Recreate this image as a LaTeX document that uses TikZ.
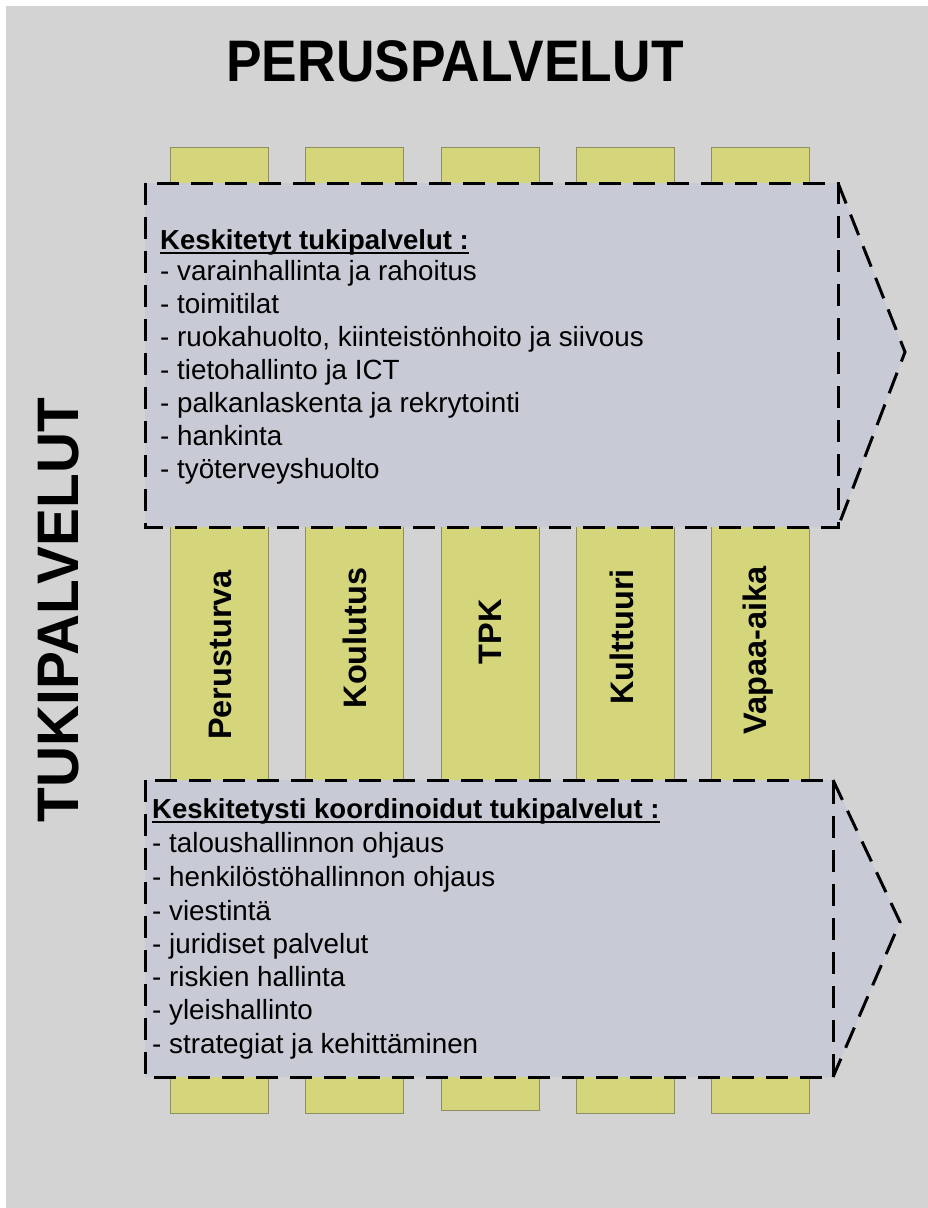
\documentclass[tikz,border=0pt]{standalone}
\usepackage{fontspec}
\setmainfont{Liberation Sans}
\definecolor{bggray}{HTML}{D3D3D3}
\definecolor{boxfill}{HTML}{C8CBD5}
\definecolor{barfill}{HTML}{D5D67C}
\definecolor{barline}{HTML}{8E8E62}
\tikzset{
  bar/.style={draw=barline, line width=1pt, fill=barfill, minimum width=98pt, inner sep=0pt},
  dashline/.style={draw=black, line width=3pt, dash pattern=on 22pt off 12pt},
  item/.style={anchor=base west, inner sep=0pt, font=\fontsize{27.8}{33}\selectfont},
  head/.style={anchor=base west, inner sep=0pt, font=\fontsize{27.5}{33}\selectfont\bfseries},
  uline/.style={draw=black, line width=2pt},
  coltext/.style={rotate=90, inner sep=0pt, font=\fontsize{32.5}{36}\selectfont\bfseries},
  bigtext/.style={inner sep=0pt, font=\fontsize{58.6}{60}\selectfont\bfseries},
}
\begin{document}
\begin{tikzpicture}[x=1pt,y=-1pt]
\useasboundingbox (0,0) rectangle (928,1208);
\fill[white] (0,0) rectangle (928,1208);
\fill[bggray] (6,6) rectangle (928,1208);

% title
\node[bigtext] (title) at (455,61) {\scalebox{0.91}[1]{PERUSPALVELUT}};
\node[bigtext, rotate=90] (side) at (59,610) {\scalebox{0.97}[1]{TUKIPALVELUT}};

% bars
\node[bar, minimum height=966pt] (b1) at (219,630) {};
\node[bar, minimum height=966pt] (b2) at (354.5,630) {};
\node[bar, minimum height=963pt] (b3) at (490,628.5) {};
\node[bar, minimum height=966pt] (b4) at (625.5,630) {};
\node[bar, minimum height=966pt] (b5) at (760.5,630) {};

% top box
\fill[boxfill] (145,183) -- (838,183) -- (905,352) -- (838,527) -- (145,527) -- cycle;
\draw[dashline] (145,183) rectangle (838,527);
\draw[dashline] (838,183) -- (905,352) -- (838,527);

% bottom box
\fill[boxfill] (145,780) -- (833,780) -- (900,922) -- (833,1077) -- (145,1077) -- cycle;
\draw[dashline] (145,780) rectangle (833,1077);
\draw[dashline] (833,780) -- (900,922) -- (833,1077);

% column labels
\node[coltext] (t1) at (220,655) {Perusturva};
\node[coltext] (t2) at (355,638) {Koulutus};
\node[coltext] (t3) at (490,632) {TPK};
\node[coltext] (t4) at (622,637) {Kulttuuri};
\node[coltext] (t5) at (758,650) {Vapaa-aika};

% top list
\node[head] (h1) at (160,249) {Keskitetyt tukipalvelut :};
\draw[uline] ([yshift=1.5pt]h1.south west) -- ([yshift=1.5pt]h1.south east);
\node[item] (a1) at (160,280) {- varainhallinta ja rahoitus};
\node[item] (a2) at (160,313) {- toimitilat};
\node[item] (a3) at (160,346) {- ruokahuolto, kiinteistönhoito ja siivous};
\node[item] (a4) at (160,379) {- tietohallinto ja ICT};
\node[item] (a5) at (160,412) {- palkanlaskenta ja rekrytointi};
\node[item] (a6) at (160,445) {- hankinta};
\node[item] (a7) at (160,478) {- työterveyshuolto};

% bottom list
\node[head] (h2) at (152,818) {Keskitetysti koordinoidut tukipalvelut :};
\draw[uline] ([yshift=1.5pt]h2.south west) -- ([yshift=1.5pt]h2.south east);
\node[item] (c1) at (152,852) {- taloushallinnon ohjaus};
\node[item] (c2) at (152,886) {- henkilöstöhallinnon ohjaus};
\node[item] (c3) at (152,920) {- viestintä};
\node[item] (c4) at (152,953) {- juridiset palvelut};
\node[item] (c5) at (152,986) {- riskien hallinta};
\node[item] (c6) at (152,1019) {- yleishallinto};
\node[item] (c7) at (152,1053) {- strategiat ja kehittäminen};
\end{tikzpicture}
\end{document}
